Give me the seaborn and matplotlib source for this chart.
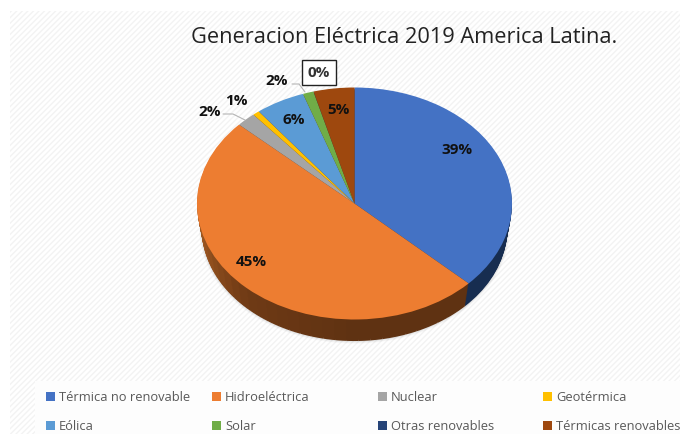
import matplotlib
matplotlib.use("Agg")
import matplotlib.pyplot as plt
from matplotlib.patches import Rectangle, Ellipse
import seaborn as sns

categories = ["Térmica no renovable", "Hidroeléctrica", "Nuclear", "Geotérmica",
              "Eólica", "Solar", "Otras renovables", "Térmicas renovables"]
percent_labels = ["39%", "45%", "2%", "1%", "6%", "2%", "0%", "5%"]
# slice sizes as they appear in the tilted 3D drawing
slice_shares = [37.1, 49.8, 2.0, 0.7, 5.1, 1.1, 0.02, 4.18]
colors = ["#4472C4", "#ED7D31", "#A5A5A5", "#FFC000", "#5B9BD5", "#70AD47", "#264478", "#9E480E"]

sns.set_theme(style="white")
plt.rcParams["font.family"] = ["Open Sans", "DejaVu Sans"]

W, H = 680, 435
CX, CY, RX, RY, DEPTH = 354.5, 204.5, 157.5, 116, 25

def dx(px):
    return (px - CX) / RX

def dy(py):
    return (CY - py) / RY

fig = plt.figure(figsize=(W / 100, H / 100), dpi=100, facecolor="white")
ax = fig.add_axes([0, 0, 1, 1])

# hatched chart-area background
ax.add_patch(Rectangle((dx(10), dy(H)), dx(W) - dx(10), dy(12) - dy(H), facecolor="white",
                       edgecolor="#f3f3f3", hatch="//////", lw=0, zorder=0))
ax.add_patch(Rectangle((dx(35), dy(H)), dx(W) - dx(35), dy(382) - dy(H), facecolor="#fdfdfd",
                       edgecolor="none", zorder=0.5))

# soft shadow under the pie
for grow, alpha in [(5, 0.03), (3, 0.04), (1, 0.05)]:
    ax.add_patch(Ellipse((0, -DEPTH / RY), 1.94 + grow / RX, 1.94 + grow / RY, facecolor="black",
                         edgecolor="none", alpha=alpha, zorder=0.8))

# side wall: stacked dark copies, orange part with a gradient
n_grad = 40
grad = sns.blend_palette(["#5F3212", "#5F3212", "#6F3A15", "#A85E25", "#A85E25"], n_grad)
side_shares = [slice_shares[0]] + [slice_shares[1] / n_grad] * n_grad + [sum(slice_shares[2:])]
side_colors = ["#172D50"] + list(grad) + ["#5F3212"]
for d in range(DEPTH, 0, -1):
    ax.pie(side_shares, colors=side_colors, startangle=90, counterclock=False,
           center=(0, -d / RY), radius=1 - 0.03 * d / DEPTH, frame=True,
           wedgeprops={"linewidth": 0, "zorder": 1})

wedges, _ = ax.pie(slice_shares, colors=colors, startangle=90, counterclock=False,
                   center=(0, 0), radius=1, frame=True,
                   wedgeprops={"linewidth": 0, "zorder": 2})

ax.set_aspect("auto")
ax.set_xlim(dx(0), dx(W))
ax.set_ylim(dy(H), dy(0))
ax.set_axis_off()

# labels
label_px = [(457, 150), (251, 262), (210, 112), (236, 101), (294, 120), (277, 81), (319, 73.5), (339, 110)]
for txt, (px, py), cat in zip(percent_labels, label_px, categories):
    box = None
    if cat == "Otras renovables":
        box = dict(facecolor="white", edgecolor="#222222", lw=1, boxstyle="square,pad=0.36")
    ax.text(dx(px), dy(py), txt, ha="center", va="center", fontsize=11, fontweight="bold",
            color="#111111" if box is None else "#333333", bbox=box, zorder=5)

# leader lines
for (x0, y0), (x1, y1), (x2, y2) in [((223, 115), (233, 115), (245, 121)), ((292, 85), (299, 85), (305, 93))]:
    ax.plot([dx(x0), dx(x1), dx(x2)], [dy(y0), dy(y1), dy(y2)], color="#b5b5b5", lw=0.8, zorder=4)

# title
ax.text(dx(404), dy(37.5), "Generacion Eléctrica 2019 America Latina.", ha="center", va="center",
        fontsize=15.7, color="#222222", zorder=5)

# legend
col_px = [46, 212, 378, 543]
row_px = [397, 426]
for i, (cat, col) in enumerate(zip(categories, colors)):
    px, py = col_px[i % 4], row_px[i // 4]
    ax.add_patch(Rectangle((dx(px), dy(py + 4.5)), 9 / RX, 9 / RY, facecolor=col, edgecolor="none", zorder=5))
    ax.text(dx(px + 13), dy(py + 1), cat, ha="left", va="center", fontsize=9.25, color="#595959", zorder=5)

fig.savefig("out.png", dpi=100)
